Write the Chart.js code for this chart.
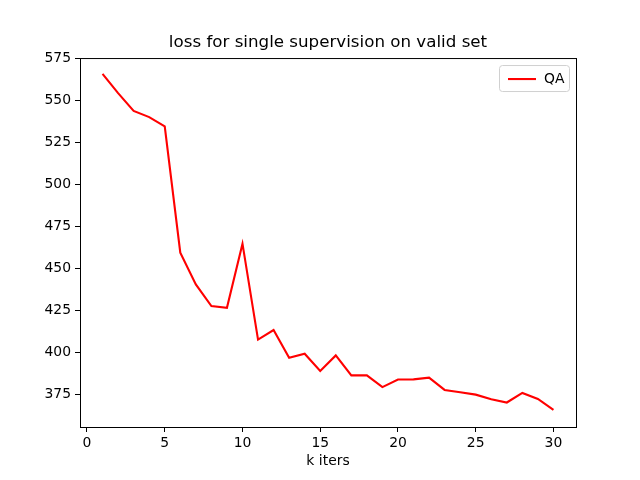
<!DOCTYPE html>
<html>
<head>
<meta charset="utf-8">
<script src="https://cdn.jsdelivr.net/npm/chart.js@4/dist/chart.umd.min.js"></script>
<style>
  html, body { margin: 0; padding: 0; background: #fff; }
  #wrap { width: 640px; height: 480px; }
</style>
</head>
<body>
<div id="wrap"><canvas id="chart" width="640" height="480"></canvas></div>
<script>
let iters = [1, 2, 3, 4, 5, 6, 7, 8, 9, 10, 11, 12, 13, 14, 15, 16, 17, 18, 19, 20, 21, 22, 23, 24, 25, 26, 27, 28, 29, 30];
let qaLoss = [566.1, 554.6, 544.0, 540.3, 534.7, 459.4, 440.5, 427.6, 426.6, 464.8,
  407.6, 413.3, 396.8, 399.2, 388.9, 398.2, 386.3, 386.3, 379.3, 383.8,
  383.9, 384.9, 377.6, 376.2, 374.8, 372.0, 370.1, 375.8, 372.2, 365.7];
let xTicks = [0, 5, 10, 15, 20, 25, 30];
let yTicks = [375, 400, 425, 450, 475, 500, 525, 550, 575];

Chart.defaults.font.family = "'DejaVu Sans', sans-serif";
Chart.defaults.font.size = 13.9;
Chart.defaults.color = "#000";

// matplotlib look: title centred on the axes, box round the plot, framed legend
let mplLook = {
  id: "mplLook",
  afterLayout(c) {
    let t = c.titleBlock;
    if (t) {
      t.left = c.chartArea.left;
      t.right = c.chartArea.right;
      t.width = t.right - t.left;
    }
  },
  beforeDatasetsDraw(c) {
    let a = c.chartArea;
    let ctx = c.ctx;
    ctx.save();
    ctx.strokeStyle = "#000";
    ctx.lineWidth = 1;
    ctx.strokeRect(a.left + 0.5, a.top + 0.5, a.right - a.left, a.bottom - a.top);
    ctx.restore();
  },
  afterDraw(c) {
    let ctx = c.ctx;
    let a = c.chartArea;
    let ds = c.data.datasets[0];
    let x0 = a.right - 77, y0 = a.top + 7;
    ctx.save();
    ctx.fillStyle = "rgba(255,255,255,0.8)";
    ctx.strokeStyle = "#d0d0d0";
    ctx.lineWidth = 1;
    ctx.beginPath();
    ctx.roundRect(x0 + 0.5, y0 + 0.5, 70, 26, 3);
    ctx.fill();
    ctx.stroke();
    ctx.strokeStyle = ds.borderColor;
    ctx.lineWidth = ds.borderWidth;
    ctx.beginPath();
    ctx.moveTo(x0 + 9, y0 + 14);
    ctx.lineTo(x0 + 37, y0 + 14);
    ctx.stroke();
    ctx.fillStyle = "#000";
    ctx.font = "13.9px 'DejaVu Sans', sans-serif";
    ctx.textBaseline = "middle";
    ctx.fillText(ds.label, x0 + 45, y0 + 14);
    ctx.restore();
  }
};

let chart = new Chart(document.getElementById("chart").getContext("2d"), {
  type: "line",
  data: {
    labels: iters,
    datasets: [
      {
        label: "QA",
        data: iters.map((x, i) => ({ x: x, y: qaLoss[i] })),
        borderColor: "#ff0000",
        backgroundColor: "#ff0000",
        borderWidth: 2.1,
        pointRadius: 0,
        tension: 0,
      },
    ],
  },
  options: {
    responsive: false,
    animation: false,
    layout: { padding: { left: 0, right: 64, top: 0, bottom: 0 } },
    scales: {
      x: {
        type: "linear",
        min: -0.45,
        max: 31.45,
        afterBuildTicks: (s) => { s.ticks = xTicks.map((v) => ({ value: v })); },
        afterFit: (s) => { s.height = 53; },
        grid: { drawOnChartArea: false, tickLength: 5, tickColor: "#000" },
        border: { display: false },
        ticks: { padding: 3, maxRotation: 0 },
        title: { display: true, text: "k iters", padding: { top: 0, bottom: 10 } },
      },
      y: {
        min: 355.5,
        max: 575.5,
        afterBuildTicks: (s) => { s.ticks = yTicks.map((v) => ({ value: v })); },
        afterFit: (s) => { s.width = 80; },
        grid: { drawOnChartArea: false, tickLength: 5, tickColor: "#000" },
        border: { display: false },
        ticks: { padding: 4 },
      },
    },
    plugins: {
      title: {
        display: true,
        text: "loss for single supervision on valid set",
        font: { size: 16.7, weight: "normal" },
        padding: { top: 33, bottom: 5 },
      },
      legend: { display: false },
      tooltip: { enabled: false },
    },
  },
  plugins: [mplLook],
});
</script>
</body>
</html>
